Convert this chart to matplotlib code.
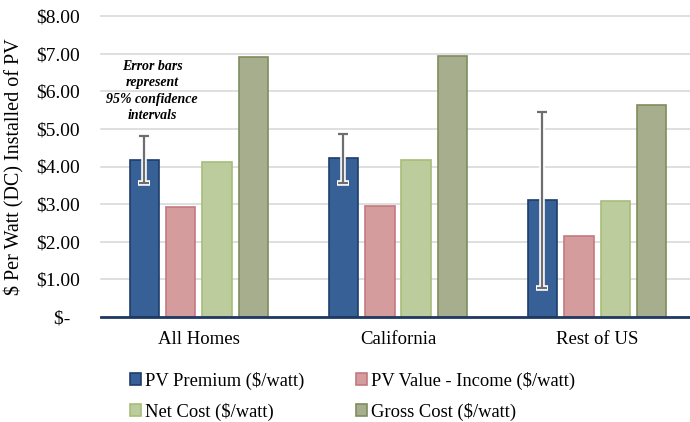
import numpy as np
import matplotlib.pyplot as plt
from matplotlib.patches import Patch

plt.rcParams['font.family'] = ['Liberation Serif', 'DejaVu Serif']

regions = ["All Homes", "California", "Rest of US"]
series = ["PV Premium ($/watt)", "PV Value - Income ($/watt)",
          "Net Cost ($/watt)", "Gross Cost ($/watt)"]
pv_premium = [4.18, 4.22, 3.12]
pv_value = [2.93, 2.95, 2.14]
net_cost = [4.13, 4.17, 3.09]
gross_cost = [6.90, 6.94, 5.63]
ci_low = [3.57, 3.57, 0.78]
ci_high = [4.81, 4.86, 5.44]
yticks = [0, 1, 2, 3, 4, 5, 6, 7, 8]
ytick_labels = ["$-  ", "$1.00", "$2.00", "$3.00", "$4.00",
                "$5.00", "$6.00", "$7.00", "$8.00"]

fills = ["#376196", "#D49C9D", "#BDCC9D", "#A7AE8D"]
edges = ["#1E3D6B", "#C27A80", "#A5BE78", "#7E8D5C"]

fig = plt.figure(figsize=(6.9, 4.22), dpi=100)
ax = fig.add_axes([101 / 690, 1 - 317 / 422, 1 - 101 / 690, (317 - 16) / 422])

x = np.arange(len(regions))
step = 0.183
width = 0.148
values = [pv_premium, pv_value, net_cost, gross_cost]
for i, vals in enumerate(values):
    ax.bar(x + (i - 1.5) * step, vals, width, color=fills[i],
           edgecolor=edges[i], linewidth=1.2, zorder=3)

# error bars on the premium bars: white halo under a gray line
prem = np.array(pv_premium)
err = [prem - np.array(ci_low), np.array(ci_high) - prem]
xb = x - 1.5 * step
ax.errorbar(xb, prem, yerr=err, fmt="none", ecolor="white",
            elinewidth=4, capsize=4.5, capthick=4, zorder=4)
ax.errorbar(xb, prem, yerr=err, fmt="none", ecolor="#6E6E6E",
            elinewidth=1.6, capsize=3.5, capthick=1.6, zorder=5)

ax.set_xlim(-0.492, 2.467)
ax.set_ylim(0, 8.0)
ax.set_yticks(yticks)
ax.set_yticklabels(ytick_labels, fontsize=14)
ax.set_xticks(x)
ax.set_xticklabels(regions, fontsize=13.5)
ax.tick_params(length=0)
ax.tick_params(axis="x", pad=10)
ax.tick_params(axis="y", pad=15)
ax.yaxis.grid(True, color="#D9D9D9", linewidth=1.2, zorder=0, clip_on=False)
ax.set_axisbelow(True)
for s in ["top", "right", "left"]:
    ax.spines[s].set_visible(False)
ax.spines["bottom"].set_color("#1F3864")
ax.spines["bottom"].set_linewidth(2)
ax.spines["bottom"].set_zorder(6)

ax.set_ylabel("$ Per Watt (DC) Installed of PV", fontsize=14.5)
ax.yaxis.set_label_coords(-77 / 589, 0.50)

ax.text(152, 422 - 91, "Error bars\nrepresent\n95% confidence\nintervals",
        transform=None, ha="center", va="center", fontsize=10,
        fontweight="bold", fontstyle="italic", linespacing=1.35)

handles = [Patch(facecolor=fills[i], edgecolor=edges[i], linewidth=1.2)
           for i in range(4)]
order = [0, 2, 1, 3]
fig.legend([handles[i] for i in order], [series[i] for i in order],
           ncol=2, loc="upper left",
           bbox_to_anchor=(113 / 690, 1 - 355 / 422), frameon=False,
           fontsize=13.3, handlelength=0.6, handleheight=0.6,
           handletextpad=0.25, columnspacing=2.75, labelspacing=0.7)

fig.savefig("out.png", dpi=100)
